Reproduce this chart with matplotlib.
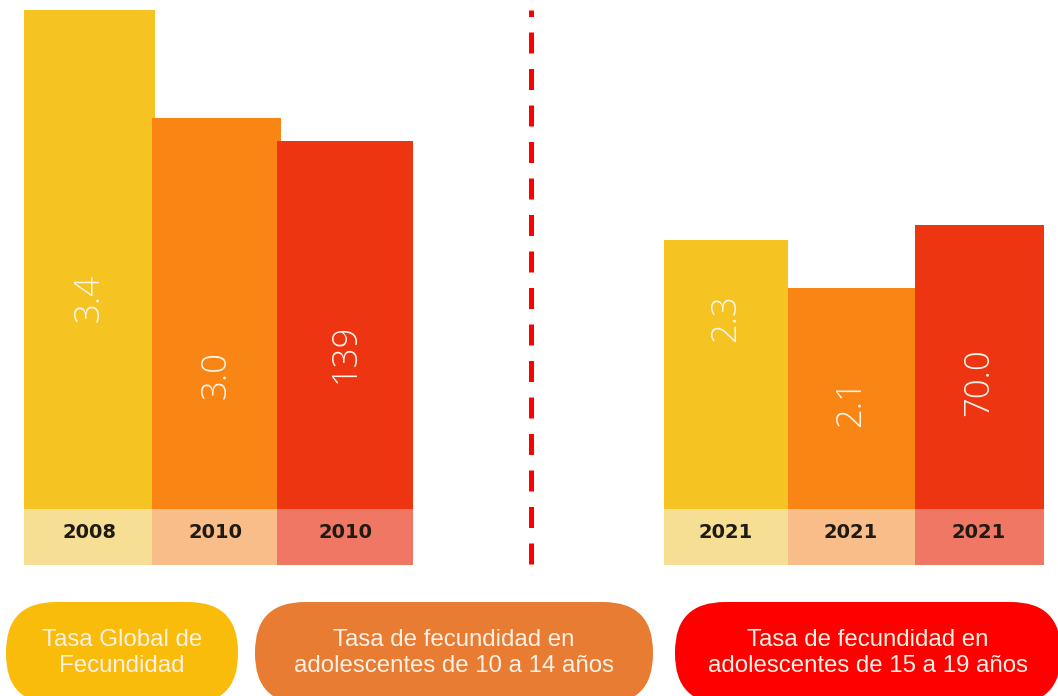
import matplotlib
matplotlib.use("Agg")
import matplotlib.pyplot as plt
from matplotlib.patches import FancyBboxPatch

# Data
values = ["3.4", "3.0", "139", "2.3", "2.1", "70.0"]
years = ["2008", "2010", "2010", "2021", "2021", "2021"]
# drawn bar heights (the source uses no common scale, so heights are read as drawn)
bar_heights = [499, 391, 368, 269, 221, 284]
indicators = ["Tasa Global de\nFecundidad",
              "Tasa de fecundidad en\nadolescentes de 10 a 14 años",
              "Tasa de fecundidad en\nadolescentes de 15 a 19 años"]

# Layout (pixel-like units; y = 0 is the top of the year boxes)
bar_x = [89, 216, 345, 726, 851, 979]
bar_w = [131, 129, 136, 124, 127, 129]
label_y = [211, 134, 156, 191, 106, 127]
bar_colors = ["#F5C423", "#F98514", "#EE3512"] * 2
box_colors = ["#F6DE95", "#F9BD8A", "#F07764"] * 2
pill_spans = [(6, 238), (255, 653), (675, 1061)]
pill_colors = ["#F9BC0A", "#E97C33", "#FE0000"]

fig = plt.figure(figsize=(10.58, 6.96), dpi=100)
ax = fig.add_axes([0, 0, 1, 1])
ax.set_xlim(0, 1058)
ax.set_ylim(-187, 509)
ax.axis("off")

# main bars
ax.bar(bar_x, bar_heights, width=bar_w, bottom=0, color=bar_colors, linewidth=0)
# year boxes under bars
ax.bar(bar_x, [56] * len(bar_x), width=bar_w, bottom=-56, color=box_colors, linewidth=0)

for x, v, ly in zip(bar_x, values, label_y):
    ax.text(x, ly, v, rotation=90, ha="center", va="center", color="#FFF6EA",
            fontsize=25, fontweight="light", family=["Open Sans", "DejaVu Sans"])

for x, yr in zip(bar_x, years):
    ax.text(x, -23, yr, ha="center", va="center", color="#1E1A14",
            fontsize=14, fontweight="bold", family=["DejaVu Sans"])

# dashed separator
ax.plot([531, 531], [-55, 499], color="#FF0000", linewidth=3.6,
        dashes=(4.2, 3.1), solid_capstyle="butt", dash_capstyle="butt")

# indicator pills
for (x0, x1), col, txt in zip(pill_spans, pill_colors, indicators):
    pill = FancyBboxPatch((x0, -195), x1 - x0, 102,
                          boxstyle="round,pad=0,rounding_size=50",
                          facecolor=col, edgecolor="none", clip_on=False)
    ax.add_patch(pill)
    ax.text((x0 + x1) / 2, -144, txt, ha="center", va="center", color="#FFF1E6",
            fontsize=17.3, family=["Liberation Sans", "DejaVu Sans"], linespacing=1.18)

fig.savefig("out.png", dpi=100)
